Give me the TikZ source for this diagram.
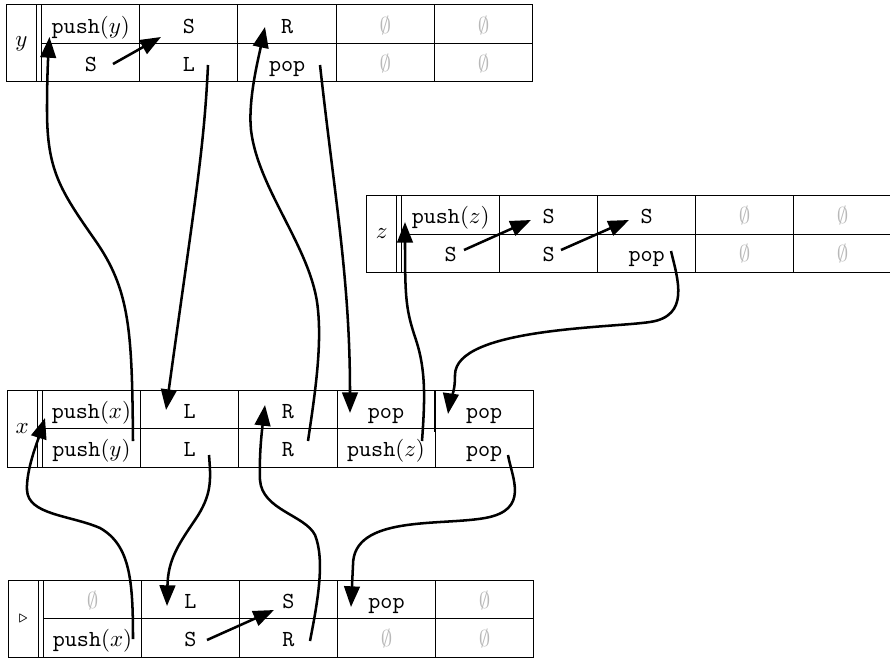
\documentclass[tikz,border=0pt]{standalone}
\usetikzlibrary{arrows.meta,calc}
\definecolor{emptygray}{gray}{0.72}
\tikzset{
  tabline/.style={line width=0.45pt},
  cell/.style={font=\ttfamily, inner sep=0pt, text height=1.6ex, text depth=0.5ex, anchor=center},
  emp/.style={cell, text=emptygray},
  lbl/.style={inner sep=0pt, anchor=center},
  link/.style={line width=1.1pt, -{Triangle[length=9pt,width=6.8pt]}},
  oddmark/.style={line width=0.9pt},
}
\newcommand\gridtable[6]{%
  \draw[tabline] (#1,#2) rectangle ({#5+5+5*#6},#4);
  \draw[tabline] (#5,#2) -- (#5,#4) ({#5+5},#2) -- ({#5+5},#4);
  \draw[tabline] ({#5+5},#3) -- ({#5+5+5*#6},#3);
  \foreach \k in {1,2,3,4} {\draw[tabline] ({#5+5+\k*#6},#2) -- ({#5+5+\k*#6},#4);}
}
\begin{document}
\begin{tikzpicture}[x=0.435pt,y=-0.435pt]
\useasboundingbox (0,0) rectangle (890,658);
% ---------- grids
\gridtable{6.5}{4.5}{43.5}{81.5}{36.5}{98.2}
\gridtable{366.5}{195.5}{234.5}{272.5}{396.5}{98}
\gridtable{7.5}{390.5}{428.5}{467.5}{37.5}{98.2}
\gridtable{8.5}{580.5}{618.5}{657.5}{38.5}{98}
\draw[oddmark] (434.6,390.5) -- (434.6,432);
% ---------- labels
\node[lbl] (ylab) at (21.35,43.4) {$y$};
\node[lbl] (zlab) at (381.6,233.5) {$z$};
\node[lbl] (xlab) at (22.15,428.5) {$x$};
\node[lbl] (slab) at (23.25,618.5) {$\scriptstyle\triangleright$};
% ---------- y table
\node[cell] (y11) at (90.8,27.9) {push$(y)$};
\node[cell] (y12) at (189.0,27.9) {S};
\node[cell] (y13) at (287.2,27.9) {R};
\node[emp]  (y14) at (385.4,27.9) {$\emptyset$};
\node[emp]  (y15) at (483.6,27.9) {$\emptyset$};
\node[cell] (y21) at (90.8,66.5) {S};
\node[cell] (y22) at (189.0,66.5) {L};
\node[cell] (y23) at (287.2,66.5) {pop};
\node[emp]  (y24) at (385.4,66.5) {$\emptyset$};
\node[emp]  (y25) at (483.6,66.5) {$\emptyset$};
% ---------- z table
\node[cell] (z11) at (450.7,218) {push$(z)$};
\node[cell] (z12) at (548.7,218) {S};
\node[cell] (z13) at (646.7,218) {S};
\node[emp]  (z14) at (744.7,218) {$\emptyset$};
\node[emp]  (z15) at (842.7,218) {$\emptyset$};
\node[cell] (z21) at (450.7,256.5) {S};
\node[cell] (z22) at (548.7,256.5) {S};
\node[cell] (z23) at (646.7,256.5) {pop};
\node[emp]  (z24) at (744.7,256.5) {$\emptyset$};
\node[emp]  (z25) at (842.7,256.5) {$\emptyset$};
% ---------- x table
\node[cell] (x11) at (91.4,412.75) {push$(x)$};
\node[cell] (x12) at (189.6,412.75) {L};
\node[cell] (x13) at (287.8,412.75) {R};
\node[cell] (x14) at (386.0,412.75) {pop};
\node[cell] (x15) at (484.2,412.75) {pop};
\node[cell] (x21) at (91.4,451.25) {push$(y)$};
\node[cell] (x22) at (189.6,451.25) {L};
\node[cell] (x23) at (287.8,451.25) {R};
\node[cell] (x24) at (386.0,451.25) {push$(z)$};
\node[cell] (x25) at (484.2,451.25) {pop};
% ---------- start table
\node[emp]  (b11) at (92.5,603) {$\emptyset$};
\node[cell] (b12) at (190.5,603) {L};
\node[cell] (b13) at (288.5,603) {S};
\node[cell] (b14) at (386.5,603) {pop};
\node[emp]  (b15) at (484.5,603) {$\emptyset$};
\node[cell] (b21) at (92.5,641.5) {push$(x)$};
\node[cell] (b22) at (190.5,641.5) {S};
\node[cell] (b23) at (288.5,641.5) {R};
\node[emp]  (b24) at (386.5,641.5) {$\emptyset$};
\node[emp]  (b25) at (484.5,641.5) {$\emptyset$};
% ---------- short links inside tables
\draw[link] ($(y21)+(22.2,-2.5)$) -- ($(y12)+(-28,9.1)$);
\draw[link] ($(z21)+(13.3,-6.5)$) -- ($(z12)+(-17.7,2)$);
\draw[link] ($(z22)+(12.3,-6.5)$) -- ($(z13)+(-17.7,2)$);
\draw[link] ($(b22)+(16.5,-1.5)$) -- ($(b13)+(-14.5,7)$);
% ---------- long links
\draw[link] ($(y22)+(19,-1.5)$) .. controls (204,150) and (195,200) .. ($(x12)+(-23.6,-2.75)$);
\draw[link] ($(x21)+(41.6,-10.25)$) .. controls (132,330) and (130,290) .. (95,240)
   .. controls (60,190) and (47,170) .. (47,110)
   .. controls (47,80) and (48,60) .. ($(y11)+(-41.3,9.1)$);
\draw[link] ($(x23)+(20.2,-10.25)$) .. controls (314,400) and (322,350) .. (318,310)
   .. controls (313,250) and (258,190) .. (251,130)
   .. controls (248,100) and (258,60) .. ($(y13)+(-22.2,-0.9)$);
\draw[link] ($(y23)+(32.8,-1.5)$) .. controls (335,200) and (350,280) .. ($(x14)+(-36,0.25)$);
\draw[link] ($(x24)+(36,-10.25)$) .. controls (425,400) and (426,370) .. (416,340)
   .. controls (406,310) and (405,300) .. ($(z11)+(-45.7,4)$);
\draw[link] ($(z23)+(24.3,-5.5)$) .. controls (678,280) and (690,316) .. (650,322)
   .. controls (610,328) and (455,328) .. (455,375)
   .. controls (455,395) and (450,400) .. ($(x15)+(-36.2,1.25)$);
\draw[link] ($(b21)+(40.5,-2.5)$) .. controls (133,580) and (130,545) .. (100,528)
   .. controls (70,515) and (28,515) .. (27,490)
   .. controls (26,470) and (38,440) .. ($(x11)+(-46.4,5.25)$);
\draw[link] ($(x22)+(19.4,3.75)$) .. controls (211,480) and (212,495) .. (195,520)
   .. controls (178,545) and (168,560) .. ($(b12)+(-23.5,3)$);
\draw[link] ($(b23)+(21.5,-0.5)$) .. controls (318,600) and (325,560) .. (315,535)
   .. controls (305,515) and (262,510) .. (260,480)
   .. controls (259,455) and (262,430) .. ($(x13)+(-22.8,-7.75)$);
\draw[link] ($(x25)+(23.8,3.75)$) .. controls (512,478) and (530,510) .. (485,518)
   .. controls (440,526) and (353,515) .. (353,565)
   -- ($(b14)+(-35.5,4)$);
\end{tikzpicture}
\end{document}
